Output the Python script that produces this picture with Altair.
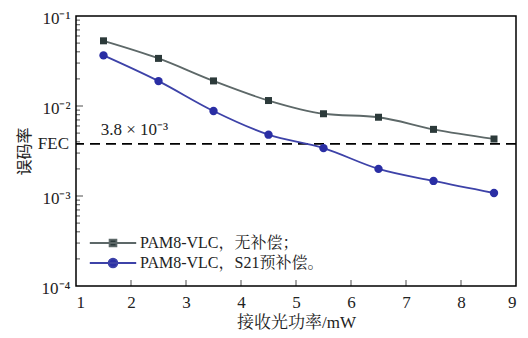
import altair as alt
import pandas as pd

power = [1.5, 2.5, 3.5, 4.5, 5.5, 6.5, 7.5, 8.6]
ber_nocomp = [0.053, 0.0338, 0.019, 0.0115, 0.0082, 0.0075, 0.0055, 0.0043]
ber_s21 = [0.0365, 0.0189, 0.0088, 0.0048, 0.0034, 0.0020, 0.00147, 0.00108]
series_names = ["PAM8-VLC，无补偿；", "PAM8-VLC，S21预补偿。"]
fec_value = 0.0038
fec_label = "3.8 × 10⁻³"
x_ticks = [2, 3, 4, 5, 6, 7, 8]
y_major = [1e-3, 1e-2]
y_minor = [m * 10.0 ** e for e in (-4, -3, -2) for m in range(2, 10)]

SERIF = "Liberation Serif, Noto Serif CJK SC, Noto Sans CJK SC"
LAT = "Liberation Serif"
CJK = "Noto Sans CJK SC"

df = pd.DataFrame({
    "x": power * 2,
    "y": ber_nocomp + ber_s21,
    "series": [series_names[0]] * len(power) + [series_names[1]] * len(power),
})

xscale = alt.Scale(domain=[1, 9], nice=False, zero=False)
yscale = alt.Scale(type="log", domain=[1e-4, 1e-1], nice=False)

X = alt.X("x:Q", scale=xscale,
          axis=alt.Axis(values=list(range(1, 10)), title="接收光功率/mW", tickSize=0,
                        labelFont=LAT, labelFontSize=17, titleFont=SERIF, titleFontSize=17,
                        labelPadding=8, titlePadding=4, domain=False, grid=False))
Y = alt.Y("y:Q", scale=yscale,
          axis=alt.Axis(values=[1e-4, 1e-3, 1e-2, 1e-1], title="误码率", tickSize=0,
                        labelFont=LAT, labelFontSize=17, titleFont=CJK, titleFontSize=16,
                        labelOffset=2, labelPadding=6, titlePadding=9, domain=False, grid=False,
                        labelExpr="'10' + (datum.value < 0.0005 ? '⁻⁴' : datum.value < 0.005 ? '⁻³' : datum.value < 0.05 ? '⁻²' : '⁻¹')"))

SQ = "M-5.8,0H5.8M-0.85,-0.85H0.85V0.85H-0.85Z"
CI = "M-5.8,0H5.8M-1.1,0A1.1,1.1,0,1,1,1.1,0A1.1,1.1,0,1,1,-1.1,0Z"

specs = [
    (series_names[0], "#5d6868", "#2c3a3a", "square", 49, SQ, 219),
    (series_names[1], "#3d42a8", "#2a2ea4", "circle", 70, CI, 239),
]

layers = []
for name, lc, fc, shape, size, path, ly in specs:
    d = df[df["series"] == name]
    line = alt.Chart(d).mark_line(interpolate="monotone", strokeWidth=1.8, color=lc).encode(x=X, y=Y)
    pts = alt.Chart(d).mark_point(shape=shape, filled=True, size=size, opacity=1).encode(
        x=X, y=Y,
        color=alt.Color("series:N", scale=alt.Scale(domain=[name], range=[fc]),
                        legend=alt.Legend(orient="none", legendX=29, legendY=ly, title=None,
                                          symbolType=path, symbolSize=64, padding=0,
                                          symbolFillColor=fc, symbolStrokeColor=lc,
                                          symbolStrokeWidth=1.8, symbolOpacity=1,
                                          labelFont=SERIF, labelFontSize=16, labelColor="#222",
                                          labelOffset=19, labelLimit=400)))
    layers += [line, pts]

fec = alt.Chart(pd.DataFrame({"y": [fec_value]})).mark_rule(
    color="black", strokeWidth=1.8, strokeDash=[10, 6]).encode(y=alt.Y("y:Q", scale=yscale))

fec_txt = alt.Chart(pd.DataFrame({"x": [1], "y": [fec_value], "t": ["FEC"]})).mark_text(
    align="right", baseline="middle", dx=-7, font=LAT, fontSize=17, color="#222").encode(
    x=alt.X("x:Q", scale=xscale), y=alt.Y("y:Q", scale=yscale), text="t:N")

val_txt = alt.Chart(pd.DataFrame({"x": [1.45], "y": [fec_value], "t": [fec_label]})).mark_text(
    align="left", baseline="bottom", dy=-5, font=LAT, fontSize=17, color="#222").encode(
    x=alt.X("x:Q", scale=xscale), y=alt.Y("y:Q", scale=yscale), text="t:N")

xt = alt.Chart(pd.DataFrame({"x": x_ticks})).mark_tick(
    orient="vertical", size=6, thickness=1, color="black", yOffset=-3).encode(
    x=alt.X("x:Q", scale=xscale), y=alt.datum(1e-4))

ymin = alt.Chart(pd.DataFrame({"y": y_minor})).mark_tick(
    orient="horizontal", size=4, thickness=1, color="black", xOffset=2).encode(
    y=alt.Y("y:Q", scale=yscale), x=alt.datum(1))

ymaj = alt.Chart(pd.DataFrame({"y": y_major})).mark_tick(
    orient="horizontal", size=7, thickness=1, color="black", xOffset=3.5).encode(
    y=alt.Y("y:Q", scale=yscale), x=alt.datum(1))

chart = alt.layer(fec, *layers, fec_txt, val_txt, xt, ymin, ymaj).resolve_scale(
    color="independent").resolve_legend(color="independent").properties(
    width=440, height=270, autosize="none",
    padding={"left": 68, "top": 8, "right": 4, "bottom": 44},
).configure_view(stroke="black", strokeWidth=1.5).configure_axis(
    labelColor="#222", titleColor="#222", titleFontWeight="normal",
)

chart.save("out.html", embed_options={"renderer": "svg", "actions": False})
